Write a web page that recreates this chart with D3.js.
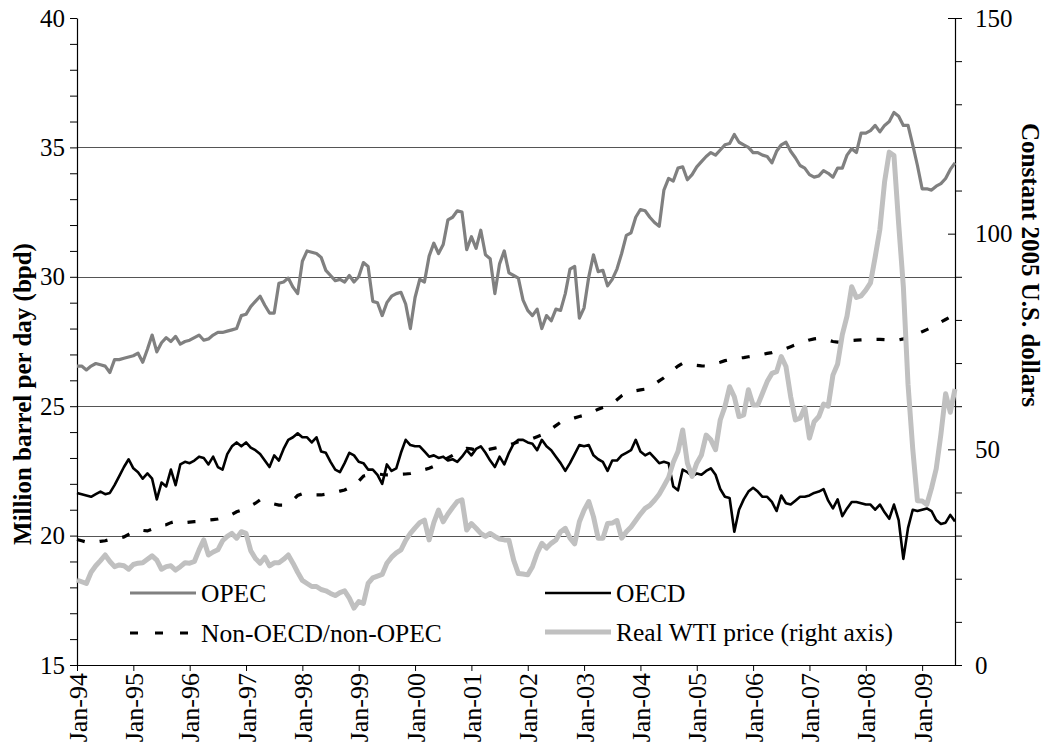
<!DOCTYPE html>
<html>
<head>
<meta charset="utf-8">
<script src="https://cdn.jsdelivr.net/npm/d3@7"></script>
<style>
    body { margin: 0; background: #fff; }
    svg { display: block; }
    text { font-family: "Liberation Serif", "Times New Roman", serif; fill: #000; }
</style>
</head>
<body>
<div id="chart"></div>
<script>
// Monthly values, Jan-94 .. Aug-09
const yearLabels = ["Jan-94", "Jan-95", "Jan-96", "Jan-97", "Jan-98", "Jan-99", "Jan-00", "Jan-01",
    "Jan-02", "Jan-03", "Jan-04", "Jan-05", "Jan-06", "Jan-07", "Jan-08", "Jan-09"];

const leftTicks = [15, 20, 25, 30, 35, 40];
const rightTicks = [0, 50, 100, 150];

const opec = [
    26.55, 26.55, 26.4, 26.55, 26.65, 26.6, 26.55, 26.3, 26.8, 26.8,
    26.85, 26.9, 26.95, 27.05, 26.7, 27.2, 27.75, 27.1, 27.45, 27.65,
    27.5, 27.7, 27.4, 27.5, 27.55, 27.65, 27.75, 27.55, 27.6, 27.75,
    27.85, 27.85, 27.9, 27.95, 28.0, 28.5, 28.55, 28.85, 29.05, 29.25,
    28.9, 28.6, 28.6, 29.75, 29.8, 29.95, 29.6, 29.35, 30.6, 31.0,
    30.95, 30.9, 30.75, 30.25, 30.05, 29.85, 29.9, 29.8, 30.05, 29.8,
    30.0, 30.55, 30.4, 29.05, 29.0, 28.5, 29.0, 29.25, 29.35, 29.4,
    28.95, 28.0, 29.2, 29.9, 29.8, 30.8, 31.3, 30.9, 31.25, 32.2,
    32.3, 32.55, 32.5, 31.05, 31.55, 31.1, 31.8, 30.85, 30.7, 29.35,
    30.5, 31.0, 30.15, 30.05, 29.95, 29.1, 28.7, 28.5, 28.75, 28.0,
    28.5, 28.3, 28.75, 28.7, 29.35, 30.3, 30.4, 28.4, 28.8, 30.0,
    30.85, 30.2, 30.25, 29.65, 29.9, 30.3, 30.9, 31.6, 31.7, 32.3,
    32.6, 32.55, 32.3, 32.1, 31.95, 33.35, 33.8, 33.7, 34.2, 34.25,
    33.75, 33.95, 34.25, 34.45, 34.65, 34.8, 34.7, 34.9, 35.1, 35.15,
    35.5, 35.2, 35.1, 35.0, 34.8, 34.8, 34.7, 34.65, 34.4, 34.85,
    35.1, 35.2, 34.85, 34.6, 34.3, 34.2, 33.95, 33.85, 33.9, 34.1,
    34.0, 33.85, 34.2, 34.2, 34.7, 34.95, 34.8, 35.55, 35.55, 35.65,
    35.85, 35.6, 35.85, 36.0, 36.35, 36.2, 35.85, 35.85, 35.1, 34.3,
    33.4, 33.4, 33.35, 33.5, 33.6, 33.8, 34.15, 34.4
];

const oecd = [
    21.65, 21.6, 21.55, 21.5, 21.6, 21.7, 21.6, 21.65, 21.95, 22.3,
    22.65, 22.95, 22.6, 22.45, 22.2, 22.4, 22.2, 21.4, 22.05, 21.9,
    22.55, 21.95, 22.75, 22.85, 22.8, 22.9, 23.05, 23.0, 22.75, 23.05,
    22.65, 22.55, 23.15, 23.45, 23.6, 23.45, 23.6, 23.4, 23.3, 23.15,
    22.9, 22.65, 23.1, 22.9, 23.35, 23.7, 23.8, 23.95, 23.8, 23.8,
    23.6, 23.8, 23.25, 23.2, 22.85, 22.55, 22.45, 22.8, 23.2, 23.1,
    22.85, 22.8, 22.55, 22.55, 22.35, 22.0, 22.75, 22.5, 22.6, 23.2,
    23.7, 23.5, 23.45, 23.45, 23.25, 23.05, 23.1, 23.0, 23.05, 22.9,
    22.95, 22.85, 23.05, 23.3, 23.1, 23.35, 23.45, 23.2, 22.9, 22.65,
    23.05, 22.75, 23.2, 23.55, 23.7, 23.7, 23.6, 23.55, 23.3, 23.7,
    23.45, 23.3, 23.05, 22.8, 22.5, 22.8, 23.15, 23.5, 23.45, 23.5,
    23.1, 22.95, 22.85, 22.5, 22.9, 22.9, 23.1, 23.2, 23.3, 23.7,
    23.25, 23.1, 23.2, 23.0, 22.8, 22.85, 22.8, 21.9, 21.75, 22.55,
    22.45, 22.3, 22.4, 22.35, 22.5, 22.6, 22.35, 21.8, 21.5, 21.45,
    20.15, 21.0, 21.4, 21.7, 21.85, 21.7, 21.5, 21.5, 21.3, 20.95,
    21.55, 21.25, 21.2, 21.35, 21.5, 21.5, 21.55, 21.65, 21.7, 21.8,
    21.35, 21.05, 21.4, 20.75, 21.05, 21.3, 21.3, 21.25, 21.2, 21.2,
    21.0, 21.2, 20.9, 20.65, 21.2, 20.6, 19.1, 20.3, 21.0, 20.95,
    21.0, 21.05, 20.95, 20.6, 20.45, 20.5, 20.8, 20.55
];

const nonOecd = [
    19.85, 19.8, 19.75, 19.75, 19.75, 19.78, 19.8, 19.85, 19.88, 19.9,
    19.95, 20.05, 20.15, 20.22, 20.2, 20.18, 20.25, 20.34, 20.4, 20.42,
    20.5, 20.55, 20.52, 20.5, 20.52, 20.54, 20.55, 20.57, 20.6, 20.62,
    20.64, 20.68, 20.75, 20.82, 20.92, 20.98, 21.05, 21.15, 21.25, 21.38,
    21.35, 21.28, 21.22, 21.18, 21.18, 21.25, 21.38, 21.55, 21.62, 21.6,
    21.58, 21.57, 21.57, 21.6, 21.64, 21.68, 21.72, 21.76, 21.85, 21.98,
    22.1, 22.3, 22.35, 22.38, 22.38, 22.36, 22.35, 22.35, 22.36, 22.37,
    22.38, 22.4, 22.45, 22.5, 22.55, 22.6, 22.68, 22.78, 22.9, 23.0,
    23.1, 23.2, 23.3, 23.37, 23.35, 23.3, 23.28, 23.3, 23.34, 23.38,
    23.42, 23.44, 23.5, 23.56, 23.63, 23.66, 23.7, 23.75, 23.82, 23.89,
    24.0, 24.12, 24.25, 24.38, 24.45, 24.5, 24.55, 24.6, 24.65, 24.72,
    24.8, 24.88, 24.95, 25.0, 25.1, 25.25, 25.4, 25.5, 25.55, 25.6,
    25.63, 25.66, 25.72, 25.85, 25.98, 26.1, 26.25, 26.4, 26.55, 26.66,
    26.65, 26.6, 26.58, 26.56, 26.55, 26.6, 26.65, 26.7, 26.76, 26.8,
    26.83, 26.86, 26.88, 26.91, 26.94, 26.97, 27.0, 27.04, 27.07, 27.12,
    27.17, 27.23, 27.3, 27.37, 27.44, 27.5, 27.56, 27.6, 27.62, 27.6,
    27.55, 27.5, 27.48, 27.5, 27.52, 27.54, 27.55, 27.56, 27.57, 27.58,
    27.58, 27.58, 27.57, 27.56, 27.55, 27.56, 27.6, 27.65, 27.72, 27.8,
    27.88, 27.96, 28.05, 28.15, 28.25, 28.35, 28.45, 28.55
];

// Real WTI price, constant 2005 U.S. dollars (right axis)
const wti = [
    19.7, 19.3, 18.9, 21.5, 23.0, 24.2, 25.5, 24.0, 22.8, 23.2,
    23.0, 22.2, 23.3, 23.6, 23.7, 24.5, 25.3, 24.3, 22.2, 22.8,
    23.0, 22.0, 22.8, 23.7, 23.6, 24.0, 26.7, 29.0, 25.5, 26.2,
    26.7, 28.8, 29.8, 30.5, 29.4, 30.9, 30.5, 26.5, 24.7, 23.6,
    25.0, 23.0, 23.7, 23.7, 24.5, 25.5, 23.6, 21.5, 19.6, 18.9,
    18.2, 18.2, 17.5, 17.2, 16.6, 16.1, 16.8, 17.2, 15.5, 13.2,
    14.7, 14.3, 18.9, 20.2, 20.6, 21.0, 23.6, 25.0, 26.0, 26.7,
    28.9, 30.5, 31.8, 33.0, 33.6, 29.0, 33.0, 35.9, 33.2, 35.0,
    36.5, 37.9, 38.3, 31.3, 32.8, 31.7, 30.5, 29.8, 30.5, 29.8,
    29.2, 29.0, 28.9, 24.3, 21.2, 21.1, 20.9, 22.8, 25.9, 28.2,
    27.1, 28.2, 29.0, 30.9, 31.7, 29.4, 28.1, 33.2, 35.9, 37.9,
    34.4, 29.4, 29.4, 32.8, 32.9, 33.5, 29.4, 30.9, 32.0, 33.5,
    35.0, 36.3, 37.0, 38.2, 39.6, 41.5, 43.5, 47.0, 49.5, 54.5,
    46.8, 43.7, 46.8, 48.7, 53.3, 52.2, 49.9, 56.8, 59.9, 64.5,
    62.2, 57.6, 58.0, 63.8, 60.3, 60.3, 63.0, 65.7, 67.6, 68.0,
    71.5, 69.2, 62.2, 56.8, 57.2, 59.7, 52.6, 56.4, 57.6, 60.5,
    60.0, 67.2, 69.8, 76.6, 80.9, 87.7, 85.2, 85.6, 86.9, 88.6,
    94.6, 101.0, 112.0, 118.9, 118.1, 102.3, 87.7, 65.0, 50.1, 38.1,
    38.0, 37.2, 41.0, 45.5, 53.5, 62.9, 58.6, 64.0
];

const W = 1050, H = 755;
const margin = {top: 18, right: 95, bottom: 90, left: 77};
const width = W - margin.left - margin.right,
    height = H - margin.top - margin.bottom;

const svg = d3.select("#chart").append("svg")
    .attr("width", W).attr("height", H);
const g = svg.append("g")
    .attr("transform", "translate(" + margin.left + "," + margin.top + ")");

const x = d3.scaleLinear().domain([0, opec.length - 1]).range([0, width]);
const yLeft = d3.scaleLinear().domain([15, 40]).range([height, 0]);
const yRight = d3.scaleLinear().domain([0, 150]).range([height, 0]);

// gridlines
g.append("g")
    .selectAll("line")
    .data(leftTicks.filter(function (d) { return d > 15 && d < 40; }))
    .enter().append("line")
    .attr("x1", 0).attr("x2", width)
    .attr("y1", function (d) { return Math.round(yLeft(d)) + 0.5; })
    .attr("y2", function (d) { return Math.round(yLeft(d)) + 0.5; })
    .attr("stroke", "#555").attr("stroke-width", 1);

// left axis: minor ticks every 1, labels every 5
g.append("g")
    .call(d3.axisLeft(yLeft).tickValues(d3.range(15, 41, 1)).tickSize(7).tickSizeOuter(0).tickPadding(5)
        .tickFormat(function (d) { return leftTicks.includes(d) ? d : ""; }));

// right axis: minor ticks outside, major ticks inside
const rightAxis = g.append("g")
    .attr("transform", "translate(" + width + ",0)")
    .call(d3.axisRight(yRight).tickValues(d3.range(0, 151, 10)).tickSizeOuter(0).tickPadding(13)
        .tickSize(7)
        .tickFormat(function (d) { return rightTicks.includes(d) ? d : ""; }));
rightAxis.selectAll(".tick line")
    .attr("x2", function (d) { return rightTicks.includes(d) ? -7 : 7; });

// bottom axis
const bottomAxis = g.append("g")
    .attr("transform", "translate(0," + height + ")")
    .call(d3.axisBottom(x).tickValues(d3.range(0, opec.length, 12)).tickSize(6).tickSizeOuter(0)
        .tickFormat(function (d) { return yearLabels[d / 12]; }));

svg.selectAll(".domain").attr("stroke", "#000").attr("stroke-width", 1.2);
svg.selectAll(".tick line").attr("stroke", "#000");
svg.selectAll(".tick text").attr("font-size", "25px")
    .attr("font-family", "'Liberation Serif', 'Times New Roman', serif");

bottomAxis.selectAll("text")
    .attr("transform", "rotate(-90)")
    .attr("x", -8).attr("y", 0).attr("dy", "0.35em")
    .attr("font-size", "26px")
    .style("text-anchor", "end");

// series
const lineLeft = d3.line()
    .x(function (d, i) { return x(i); })
    .y(function (d) { return yLeft(d); });
const lineRight = d3.line()
    .x(function (d, i) { return x(i); })
    .y(function (d) { return yRight(d); });

g.append("path").datum(opec).attr("d", lineLeft)
    .attr("fill", "none").attr("stroke", "#808080").attr("stroke-width", 3.2)
    .attr("stroke-linejoin", "round");
g.append("path").datum(oecd).attr("d", lineLeft)
    .attr("fill", "none").attr("stroke", "#000").attr("stroke-width", 2.6)
    .attr("stroke-linejoin", "round");
g.append("path").datum(nonOecd).attr("d", lineLeft)
    .attr("fill", "none").attr("stroke", "#000").attr("stroke-width", 3.2)
    .attr("stroke-dasharray", "8,15");
g.append("path").datum(wti).attr("d", lineRight)
    .attr("fill", "none").attr("stroke", "#c0c0c0").attr("stroke-width", 5)
    .attr("stroke-linejoin", "round");

// legend
const legendItems = [
    {name: "OPEC", x: 130, y: 593, color: "#808080", w: 3.2, dash: null},
    {name: "OECD", x: 545, y: 593, color: "#000", w: 2.6, dash: null},
    {name: "Non-OECD/non-OPEC", x: 130, y: 633, color: "#000", w: 3.2, dash: "8,17"},
    {name: "Real WTI price (right axis)", x: 545, y: 632, color: "#c0c0c0", w: 5, dash: null}
];
const legend = svg.append("g").selectAll("g").data(legendItems).enter().append("g");
legend.append("line")
    .attr("x1", function (d) { return d.x; })
    .attr("x2", function (d) { return d.x + 66; })
    .attr("y1", function (d) { return d.y; })
    .attr("y2", function (d) { return d.y; })
    .attr("stroke", function (d) { return d.color; })
    .attr("stroke-width", function (d) { return d.w; })
    .attr("stroke-dasharray", function (d) { return d.dash; });
legend.append("text")
    .attr("x", function (d) { return d.x + 71; })
    .attr("y", function (d) { return d.y; })
    .attr("dy", "0.35em")
    .attr("font-size", "25.5px")
    .text(function (d) { return d.name; });

// axis titles
svg.append("text")
    .attr("transform", "translate(31,394) rotate(-90)")
    .attr("text-anchor", "middle")
    .attr("font-size", "25px").attr("font-weight", "bold")
    .text("Million barrel per day (bpd)");
svg.append("text")
    .attr("transform", "translate(1022,265) rotate(90)")
    .attr("text-anchor", "middle")
    .attr("font-size", "25px").attr("font-weight", "bold")
    .text("Constant 2005 U.S. dollars");
</script>
</body>
</html>
